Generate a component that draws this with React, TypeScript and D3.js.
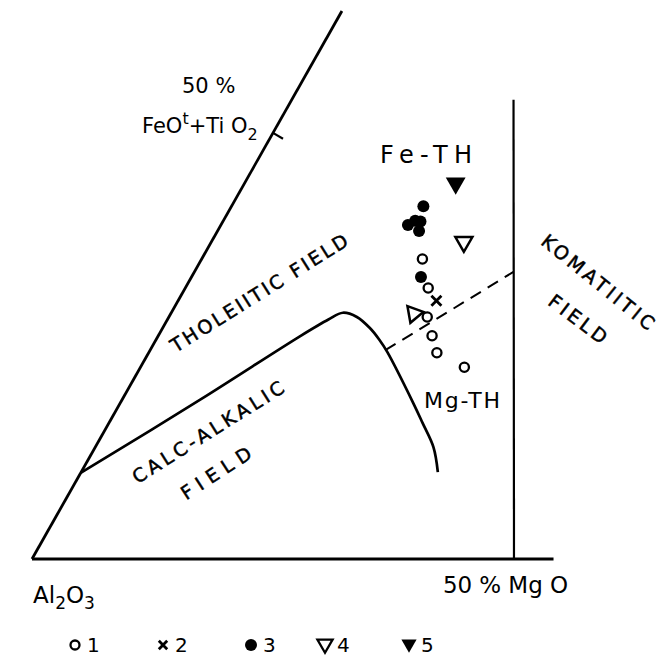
import * as d3 from 'd3'
import React from 'react'

type Comp = [number, number, number] // [Al2O3, FeOt+TiO2, MgO] in %

// sample compositions
const series1: Comp[] = [
  [41.9, 35.2, 22.9],
  [43.0, 31.8, 25.2],
  [44.8, 28.4, 26.8],
  [45.4, 26.2, 28.4],
  [45.9, 24.2, 29.9],
  [43.9, 22.5, 33.6],
]
const series2: Comp[] = [[42.9, 30.3, 26.8]]
const series3: Comp[] = [
  [38.7, 41.4, 19.9],
  [41.4, 39.2, 19.4],
  [40.4, 39.7, 19.9],
  [40.6, 38.5, 20.9],
  [39.9, 39.6, 20.5],
  [43.1, 33.1, 23.8],
]
const series4: Comp[] = [
  [36.6, 37.2, 26.2],
  [46.0, 28.8, 25.2],
]
const series5: Comp[] = [[34.0, 44.1, 21.9]]

// calc-alkalic / tholeiitic boundary
const calcAlkalicLine: Comp[] = [
  [89.9, 10.1, 0],
  [73.2, 18.7, 8.1],
  [59.2, 26.1, 14.7],
  [55.2, 28.1, 16.7],
  [53.3, 28.9, 17.8],
  [52.1, 28.4, 19.5],
  [51.4, 27.1, 21.5],
  [51.1, 25.7, 23.2],
  [51.0, 24.3, 24.7],
  [51.3, 18.3, 30.4],
  [51.5, 16.0, 32.5],
  [51.8, 13.1, 35.1],
  [52.8, 10.2, 37.0],
]
// Fe-TH / Mg-TH divide
const thDivide: Comp[] = [
  [51.1, 24.5, 24.4],
  [33.2, 33.7, 33.1],
]
// komatiitic boundary (50% MgO line)
const komLine: Comp[] = [
  [50, 0, 50],
  [23.1, 53.9, 23.0],
]
const leftEdge: Comp[] = [
  [100, 0, 0],
  [35.7, 64.3, 0],
]
const baseEdge: Comp[] = [
  [100, 0, 0],
  [45.9, 0, 54.1],
]
const feTick: Comp = [50, 50, 0]

const legendLabels = ['1', '2', '3', '4', '5']

const W = 671
const H = 656
const SQ = Math.sqrt(3) / 2

const xScale = d3.scaleLinear().domain([0, 1]).range([32, 996])
const yScale = d3.scaleLinear().domain([0, 1]).range([559, -425])

const toXY = ([al, fe, mg]: Comp): [number, number] => {
  const s = al + fe + mg
  const f = fe / s
  const m = mg / s
  return [xScale(m + f / 2), yScale(f * SQ)]
}

const straight = d3.line<Comp>().x(d => toXY(d)[0]).y(d => toXY(d)[1])
const smooth = d3
  .line<Comp>()
  .x(d => toXY(d)[0])
  .y(d => toXY(d)[1])
  .curve(d3.curveCatmullRom.alpha(0.5))

const triOpen = d3.symbol().type(d3.symbolTriangle).size(125)()
const triFilled = d3.symbol().type(d3.symbolTriangle).size(170)()
const triLegend = d3.symbol().type(d3.symbolTriangle).size(100)()

const font = "'DejaVu Sans', sans-serif"

const Cross = ({ cx, cy, s = 5 }: { cx: number; cy: number; s?: number }) => (
  <path
    d={`M${cx - s},${cy - s}L${cx + s},${cy + s}M${cx - s},${cy + s}L${cx + s},${cy - s}`}
    stroke="#000"
    strokeWidth={2.8}
  />
)

const RotLabel = ({
  x,
  y,
  angle,
  len,
  text,
  size = 19,
}: {
  x: number
  y: number
  angle: number
  len: number
  text: string
  size?: number
}) => (
  <text
    transform={`translate(${x},${y}) rotate(${angle})`}
    textAnchor="middle"
    dy="0.36em"
    fontSize={size}
    textLength={len}
    lengthAdjust="spacing"
    stroke="#000"
    strokeWidth={0.5}
  >
    {text}
  </text>
)

export default function App() {
  const [tx, ty] = toXY(feTick)
  const legendX = [75, 163, 251, 325, 409]
  const legendY = 645

  return (
    <div style={{ position: 'absolute', left: 0, top: 0 }}>
      <svg width={W} height={H} style={{ display: 'block', background: '#fff' }} fontFamily={font}>
        {/* frame */}
        <path d={straight(leftEdge) ?? ''} stroke="#000" strokeWidth={2.8} fill="none" />
        <path d={straight(baseEdge) ?? ''} stroke="#000" strokeWidth={3} fill="none" />
        <path d={straight(komLine) ?? ''} stroke="#000" strokeWidth={2.2} fill="none" />
        <line x1={tx} y1={ty} x2={tx + 10} y2={ty + 5.8} stroke="#000" strokeWidth={2.2} />

        {/* field boundaries */}
        <path d={smooth(calcAlkalicLine) ?? ''} stroke="#000" strokeWidth={2.7} fill="none" />
        <path
          d={straight(thDivide) ?? ''}
          stroke="#000"
          strokeWidth={2}
          strokeDasharray="12,8"
          fill="none"
        />

        {/* data */}
        {series1.map((d, i) => {
          const [cx, cy] = toXY(d)
          return <circle key={`a${i}`} cx={cx} cy={cy} r={4.6} fill="#fff" stroke="#000" strokeWidth={2.3} />
        })}
        {series2.map((d, i) => {
          const [cx, cy] = toXY(d)
          return <Cross key={`b${i}`} cx={cx} cy={cy} />
        })}
        {series3.map((d, i) => {
          const [cx, cy] = toXY(d)
          return <circle key={`c${i}`} cx={cx} cy={cy} r={6} fill="#000" />
        })}
        {series4.map((d, i) => {
          const [cx, cy] = toXY(d)
          return (
            <path
              key={`d${i}`}
              d={triOpen ?? ''}
              transform={`translate(${cx},${cy}) rotate(${i === 1 ? 200 : 180})`}
              fill="#fff"
              stroke="#000"
              strokeWidth={2.5}
              strokeLinejoin="miter"
            />
          )
        })}
        {series5.map((d, i) => {
          const [cx, cy] = toXY(d)
          return (
            <path key={`e${i}`} d={triFilled ?? ''} transform={`translate(${cx},${cy}) rotate(180)`} fill="#000" />
          )
        })}

        {/* labels */}
        <text x={182} y={93} fontSize={21}>
          50 %
        </text>
        <text x={142} y={133} fontSize={21}>
          FeO
          <tspan fontSize={16} dy={-9}>
            t
          </tspan>
          <tspan dy={9}>+Ti O</tspan>
          <tspan fontSize={16} dy={7}>
            2
          </tspan>
        </text>
        <text x={380} y={163} fontSize={24} textLength={92} lengthAdjust="spacing">
          Fe-TH
        </text>
        <text x={424} y={408} fontSize={22} textLength={76} lengthAdjust="spacing">
          Mg-TH
        </text>
        <text x={33} y={603} fontSize={23}>
          Al
          <tspan fontSize={17} dy={6}>
            2
          </tspan>
          <tspan dy={-6}>O</tspan>
          <tspan fontSize={17} dy={6}>
            3
          </tspan>
        </text>
        <text x={443} y={593} fontSize={23} textLength={125} lengthAdjust="spacing">
          50 % Mg O
        </text>

        <RotLabel x={259} y={293} angle={-32} len={205} text="THOLEIITIC FIELD" />
        <RotLabel x={208} y={432} angle={-32} len={175} text="CALC-ALKALIC" />
        <RotLabel x={216} y={473} angle={-33} len={80} text="FIELD" />
        <RotLabel x={598} y={282} angle={39} len={139} text="KOMATIITIC" />
        <RotLabel x={578} y={319} angle={37} len={68} text="FIELD" />

        {/* legend */}
        <circle cx={legendX[0]} cy={legendY} r={4.5} fill="#fff" stroke="#000" strokeWidth={2.3} />
        <Cross cx={legendX[1]} cy={legendY} s={4.2} />
        <circle cx={legendX[2]} cy={legendY} r={6} fill="#000" />
        <path
          d={triLegend ?? ''}
          transform={`translate(${legendX[3]},${legendY - 1}) rotate(180)`}
          fill="#fff"
          stroke="#000"
          strokeWidth={2.3}
        />
        <path d={triLegend ?? ''} transform={`translate(${legendX[4]},${legendY - 1}) rotate(180)`} fill="#000" />
        {legendLabels.map((l, i) => (
          <text key={l} x={legendX[i] + 12} y={legendY + 7} fontSize={20}>
            {l}
          </text>
        ))}
      </svg>
    </div>
  )
}
